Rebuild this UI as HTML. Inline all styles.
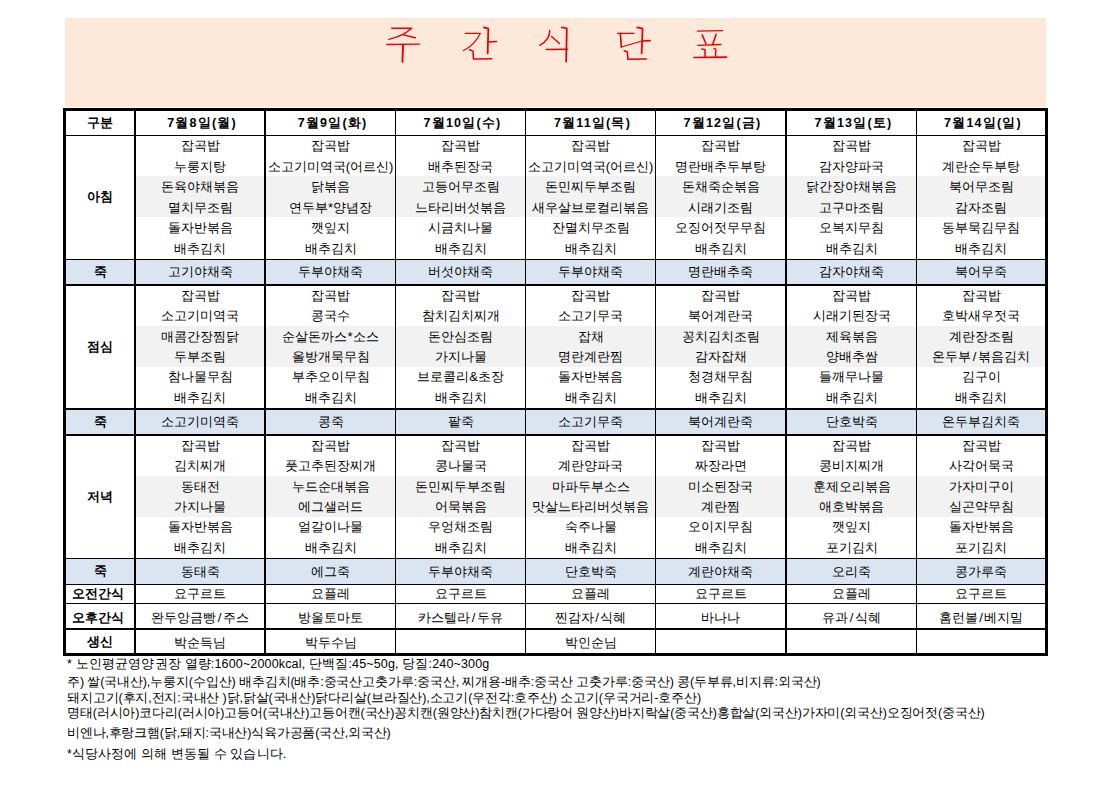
<!DOCTYPE html>
<html><head><meta charset="utf-8"><style>
html,body{margin:0;padding:0;background:#fff;width:1115px;height:788px;overflow:hidden}
body{position:relative;font-family:"Liberation Sans",sans-serif;color:#000}
.b{position:absolute}
.t,.tb{position:absolute;text-align:center;white-space:nowrap;font-size:13px}
.tb{font-weight:bold;font-size:12.5px}
.ttl{position:absolute;font-family:"Liberation Serif",serif;font-size:36px;line-height:44px;color:#f00}
.sl{margin:0 1.5px}
.n{position:absolute;white-space:nowrap;font-size:12.5px;line-height:18px}
</style></head><body>
<div class="b" style="left:65px;top:18px;width:981px;height:89px;background:#fde9d9"></div>
<svg class="b" style="left:378px;top:20px" width="50" height="50" viewBox="0 0 788 788"><g fill="none" stroke="#e80000" stroke-linecap="round" stroke-linejoin="round"><path d="M215,130 L530,130" stroke-width="20"/><path d="M520,138 Q400,250 170,305" stroke-width="20"/><path d="M400,235 L590,280" stroke-width="22"/><path d="M140,385 L655,380" stroke-width="22"/><path d="M395,390 L385,660" stroke-width="30"/></g></svg>
<svg class="b" style="left:455px;top:20px" width="50" height="50" viewBox="0 0 788 788"><g fill="none" stroke="#e80000" stroke-linecap="round" stroke-linejoin="round"><path d="M160,210 L400,210" stroke-width="20"/><path d="M395,215 Q320,380 130,485" stroke-width="18"/><path d="M455,118 L525,135 L515,525" stroke-width="28"/><path d="M525,345 L655,340" stroke-width="24"/><path d="M230,470 L285,490 L290,615 L580,612" stroke-width="24"/></g></svg>
<svg class="b" style="left:530px;top:20px" width="50" height="50" viewBox="0 0 788 788"><g fill="none" stroke="#e80000" stroke-linecap="round" stroke-linejoin="round"><path d="M310,165 Q320,300 155,400" stroke-width="22"/><path d="M340,260 L465,370" stroke-width="22"/><path d="M500,115 L580,130 L570,655" stroke-width="28"/><path d="M255,465 L590,462" stroke-width="22"/></g></svg>
<svg class="b" style="left:608px;top:20px" width="50" height="50" viewBox="0 0 788 788"><g fill="none" stroke="#e80000" stroke-linecap="round" stroke-linejoin="round"><path d="M150,210 L410,210" stroke-width="20"/><path d="M195,215 L210,425" stroke-width="26"/><path d="M210,425 L520,335" stroke-width="18"/><path d="M460,115 L545,135 L530,525" stroke-width="28"/><path d="M540,330 L665,325" stroke-width="24"/><path d="M255,485 L305,505 L315,620 L605,615" stroke-width="24"/></g></svg>
<svg class="b" style="left:686px;top:20px" width="50" height="50" viewBox="0 0 788 788"><g fill="none" stroke="#e80000" stroke-linecap="round" stroke-linejoin="round"><path d="M180,175 L575,168" stroke-width="22"/><path d="M255,235 L315,375" stroke-width="24"/><path d="M475,225 L420,385" stroke-width="24"/><path d="M185,400 L550,385" stroke-width="22"/><path d="M250,455 L300,470 L300,590" stroke-width="24"/><path d="M440,450 L470,460 L465,585" stroke-width="22"/><path d="M125,590 L640,585" stroke-width="24"/></g></svg>
<div class="b" style="left:136px;top:176px;width:128px;height:41px;background:#f2f2f2"></div>
<div class="b" style="left:266px;top:176px;width:129px;height:41px;background:#f2f2f2"></div>
<div class="b" style="left:396px;top:176px;width:129px;height:41px;background:#f2f2f2"></div>
<div class="b" style="left:526px;top:176px;width:129px;height:41px;background:#f2f2f2"></div>
<div class="b" style="left:656px;top:176px;width:129px;height:41px;background:#f2f2f2"></div>
<div class="b" style="left:787px;top:176px;width:129px;height:41px;background:#f2f2f2"></div>
<div class="b" style="left:917px;top:176px;width:128px;height:41px;background:#f2f2f2"></div>
<div class="b" style="left:66px;top:260px;width:979px;height:24px;background:#dbe5f1"></div>
<div class="b" style="left:136px;top:326px;width:128px;height:41px;background:#f2f2f2"></div>
<div class="b" style="left:266px;top:326px;width:129px;height:41px;background:#f2f2f2"></div>
<div class="b" style="left:396px;top:326px;width:129px;height:41px;background:#f2f2f2"></div>
<div class="b" style="left:526px;top:326px;width:129px;height:41px;background:#f2f2f2"></div>
<div class="b" style="left:656px;top:326px;width:129px;height:41px;background:#f2f2f2"></div>
<div class="b" style="left:787px;top:326px;width:129px;height:41px;background:#f2f2f2"></div>
<div class="b" style="left:917px;top:326px;width:128px;height:41px;background:#f2f2f2"></div>
<div class="b" style="left:66px;top:410px;width:979px;height:24px;background:#dbe5f1"></div>
<div class="b" style="left:136px;top:476px;width:128px;height:41px;background:#f2f2f2"></div>
<div class="b" style="left:266px;top:476px;width:129px;height:41px;background:#f2f2f2"></div>
<div class="b" style="left:396px;top:476px;width:129px;height:41px;background:#f2f2f2"></div>
<div class="b" style="left:526px;top:476px;width:129px;height:41px;background:#f2f2f2"></div>
<div class="b" style="left:656px;top:476px;width:129px;height:41px;background:#f2f2f2"></div>
<div class="b" style="left:787px;top:476px;width:129px;height:41px;background:#f2f2f2"></div>
<div class="b" style="left:917px;top:476px;width:128px;height:41px;background:#f2f2f2"></div>
<div class="b" style="left:66px;top:559px;width:979px;height:25px;background:#dbe5f1"></div>
<div class="b" style="left:63px;top:108px;width:3px;height:548px;background:#000"></div>
<div class="b" style="left:134px;top:108px;width:2px;height:548px;background:#000"></div>
<div class="b" style="left:264px;top:108px;width:2px;height:548px;background:#000"></div>
<div class="b" style="left:395px;top:108px;width:1px;height:548px;background:#000"></div>
<div class="b" style="left:525px;top:108px;width:1px;height:548px;background:#000"></div>
<div class="b" style="left:655px;top:108px;width:1px;height:548px;background:#000"></div>
<div class="b" style="left:785px;top:108px;width:2px;height:548px;background:#000"></div>
<div class="b" style="left:916px;top:108px;width:1px;height:548px;background:#000"></div>
<div class="b" style="left:1045px;top:108px;width:3px;height:548px;background:#000"></div>
<div class="b" style="left:63px;top:108px;width:985px;height:3px;background:#000"></div>
<div class="b" style="left:63px;top:135px;width:985px;height:1px;background:#000"></div>
<div class="b" style="left:63px;top:259px;width:985px;height:1px;background:#000"></div>
<div class="b" style="left:63px;top:284px;width:985px;height:2px;background:#000"></div>
<div class="b" style="left:63px;top:408px;width:985px;height:2px;background:#000"></div>
<div class="b" style="left:63px;top:434px;width:985px;height:2px;background:#000"></div>
<div class="b" style="left:63px;top:558px;width:985px;height:1px;background:#000"></div>
<div class="b" style="left:63px;top:584px;width:985px;height:1px;background:#000"></div>
<div class="b" style="left:63px;top:603px;width:985px;height:1px;background:#000"></div>
<div class="b" style="left:63px;top:628px;width:985px;height:2px;background:#000"></div>
<div class="b" style="left:63px;top:653px;width:985px;height:3px;background:#000"></div>
<div class="tb" style="left:66px;top:111.00px;width:68px;height:24.00px;line-height:24.00px;">구분</div>
<div class="tb" style="left:136px;top:111.00px;width:128px;height:24.00px;line-height:24.00px;letter-spacing:1.2px;text-indent:4px">7월8일(월)</div>
<div class="tb" style="left:266px;top:111.00px;width:129px;height:24.00px;line-height:24.00px;letter-spacing:1.2px;text-indent:4px">7월9일(화)</div>
<div class="tb" style="left:396px;top:111.00px;width:129px;height:24.00px;line-height:24.00px;letter-spacing:1.2px;text-indent:4px">7월10일(수)</div>
<div class="tb" style="left:526px;top:111.00px;width:129px;height:24.00px;line-height:24.00px;letter-spacing:1.2px;text-indent:4px">7월11일(목)</div>
<div class="tb" style="left:656px;top:111.00px;width:129px;height:24.00px;line-height:24.00px;letter-spacing:1.2px;text-indent:4px">7월12일(금)</div>
<div class="tb" style="left:787px;top:111.00px;width:129px;height:24.00px;line-height:24.00px;letter-spacing:1.2px;text-indent:4px">7월13일(토)</div>
<div class="tb" style="left:917px;top:111.00px;width:128px;height:24.00px;line-height:24.00px;letter-spacing:1.2px;text-indent:4px">7월14일(일)</div>
<div class="tb" style="left:66px;top:136.00px;width:68px;height:123.00px;line-height:123.00px;">아침</div>
<div class="t" style="left:136px;top:136.00px;width:128px;height:20.50px;line-height:20.50px;">잡곡밥</div>
<div class="t" style="left:136px;top:156.50px;width:128px;height:20.50px;line-height:20.50px;">누룽지탕</div>
<div class="t" style="left:136px;top:177.00px;width:128px;height:20.50px;line-height:20.50px;">돈육야채볶음</div>
<div class="t" style="left:136px;top:197.50px;width:128px;height:20.50px;line-height:20.50px;">멸치무조림</div>
<div class="t" style="left:136px;top:218.00px;width:128px;height:20.50px;line-height:20.50px;">돌자반볶음</div>
<div class="t" style="left:136px;top:238.50px;width:128px;height:20.50px;line-height:20.50px;">배추김치</div>
<div class="t" style="left:136px;top:260.00px;width:128px;height:24.00px;line-height:24.00px;">고기야채죽</div>
<div class="t" style="left:266px;top:136.00px;width:129px;height:20.50px;line-height:20.50px;">잡곡밥</div>
<div class="t" style="left:266px;top:156.50px;width:129px;height:20.50px;line-height:20.50px;">소고기미역국(어르신)</div>
<div class="t" style="left:266px;top:177.00px;width:129px;height:20.50px;line-height:20.50px;">닭볶음</div>
<div class="t" style="left:266px;top:197.50px;width:129px;height:20.50px;line-height:20.50px;">연두부*양념장</div>
<div class="t" style="left:266px;top:218.00px;width:129px;height:20.50px;line-height:20.50px;">깻잎지</div>
<div class="t" style="left:266px;top:238.50px;width:129px;height:20.50px;line-height:20.50px;">배추김치</div>
<div class="t" style="left:266px;top:260.00px;width:129px;height:24.00px;line-height:24.00px;">두부야채죽</div>
<div class="t" style="left:396px;top:136.00px;width:129px;height:20.50px;line-height:20.50px;">잡곡밥</div>
<div class="t" style="left:396px;top:156.50px;width:129px;height:20.50px;line-height:20.50px;">배추된장국</div>
<div class="t" style="left:396px;top:177.00px;width:129px;height:20.50px;line-height:20.50px;">고등어무조림</div>
<div class="t" style="left:396px;top:197.50px;width:129px;height:20.50px;line-height:20.50px;">느타리버섯볶음</div>
<div class="t" style="left:396px;top:218.00px;width:129px;height:20.50px;line-height:20.50px;">시금치나물</div>
<div class="t" style="left:396px;top:238.50px;width:129px;height:20.50px;line-height:20.50px;">배추김치</div>
<div class="t" style="left:396px;top:260.00px;width:129px;height:24.00px;line-height:24.00px;">버섯야채죽</div>
<div class="t" style="left:526px;top:136.00px;width:129px;height:20.50px;line-height:20.50px;">잡곡밥</div>
<div class="t" style="left:526px;top:156.50px;width:129px;height:20.50px;line-height:20.50px;">소고기미역국(어르신)</div>
<div class="t" style="left:526px;top:177.00px;width:129px;height:20.50px;line-height:20.50px;">돈민찌두부조림</div>
<div class="t" style="left:526px;top:197.50px;width:129px;height:20.50px;line-height:20.50px;">새우살브로컬리볶음</div>
<div class="t" style="left:526px;top:218.00px;width:129px;height:20.50px;line-height:20.50px;">잔멸치무조림</div>
<div class="t" style="left:526px;top:238.50px;width:129px;height:20.50px;line-height:20.50px;">배추김치</div>
<div class="t" style="left:526px;top:260.00px;width:129px;height:24.00px;line-height:24.00px;">두부야채죽</div>
<div class="t" style="left:656px;top:136.00px;width:129px;height:20.50px;line-height:20.50px;">잡곡밥</div>
<div class="t" style="left:656px;top:156.50px;width:129px;height:20.50px;line-height:20.50px;">명란배추두부탕</div>
<div class="t" style="left:656px;top:177.00px;width:129px;height:20.50px;line-height:20.50px;">돈채죽순볶음</div>
<div class="t" style="left:656px;top:197.50px;width:129px;height:20.50px;line-height:20.50px;">시래기조림</div>
<div class="t" style="left:656px;top:218.00px;width:129px;height:20.50px;line-height:20.50px;">오징어젓무무침</div>
<div class="t" style="left:656px;top:238.50px;width:129px;height:20.50px;line-height:20.50px;">배추김치</div>
<div class="t" style="left:656px;top:260.00px;width:129px;height:24.00px;line-height:24.00px;">명란배추죽</div>
<div class="t" style="left:787px;top:136.00px;width:129px;height:20.50px;line-height:20.50px;">잡곡밥</div>
<div class="t" style="left:787px;top:156.50px;width:129px;height:20.50px;line-height:20.50px;">감자양파국</div>
<div class="t" style="left:787px;top:177.00px;width:129px;height:20.50px;line-height:20.50px;">닭간장야채볶음</div>
<div class="t" style="left:787px;top:197.50px;width:129px;height:20.50px;line-height:20.50px;">고구마조림</div>
<div class="t" style="left:787px;top:218.00px;width:129px;height:20.50px;line-height:20.50px;">오복지무침</div>
<div class="t" style="left:787px;top:238.50px;width:129px;height:20.50px;line-height:20.50px;">배추김치</div>
<div class="t" style="left:787px;top:260.00px;width:129px;height:24.00px;line-height:24.00px;">감자야채죽</div>
<div class="t" style="left:917px;top:136.00px;width:128px;height:20.50px;line-height:20.50px;">잡곡밥</div>
<div class="t" style="left:917px;top:156.50px;width:128px;height:20.50px;line-height:20.50px;">계란순두부탕</div>
<div class="t" style="left:917px;top:177.00px;width:128px;height:20.50px;line-height:20.50px;">북어무조림</div>
<div class="t" style="left:917px;top:197.50px;width:128px;height:20.50px;line-height:20.50px;">감자조림</div>
<div class="t" style="left:917px;top:218.00px;width:128px;height:20.50px;line-height:20.50px;">동부묵김무침</div>
<div class="t" style="left:917px;top:238.50px;width:128px;height:20.50px;line-height:20.50px;">배추김치</div>
<div class="t" style="left:917px;top:260.00px;width:128px;height:24.00px;line-height:24.00px;">북어무죽</div>
<div class="tb" style="left:66px;top:260.00px;width:68px;height:24.00px;line-height:24.00px;">죽</div>
<div class="tb" style="left:66px;top:286.00px;width:68px;height:122.00px;line-height:122.00px;">점심</div>
<div class="t" style="left:136px;top:286.00px;width:128px;height:20.33px;line-height:20.33px;">잡곡밥</div>
<div class="t" style="left:136px;top:306.33px;width:128px;height:20.33px;line-height:20.33px;">소고기미역국</div>
<div class="t" style="left:136px;top:326.67px;width:128px;height:20.33px;line-height:20.33px;">매콤간장찜닭</div>
<div class="t" style="left:136px;top:347.00px;width:128px;height:20.33px;line-height:20.33px;">두부조림</div>
<div class="t" style="left:136px;top:367.33px;width:128px;height:20.33px;line-height:20.33px;">참나물무침</div>
<div class="t" style="left:136px;top:387.67px;width:128px;height:20.33px;line-height:20.33px;">배추김치</div>
<div class="t" style="left:136px;top:410.00px;width:128px;height:24.00px;line-height:24.00px;">소고기미역죽</div>
<div class="t" style="left:266px;top:286.00px;width:129px;height:20.33px;line-height:20.33px;">잡곡밥</div>
<div class="t" style="left:266px;top:306.33px;width:129px;height:20.33px;line-height:20.33px;">콩국수</div>
<div class="t" style="left:266px;top:326.67px;width:129px;height:20.33px;line-height:20.33px;">순살돈까스*소스</div>
<div class="t" style="left:266px;top:347.00px;width:129px;height:20.33px;line-height:20.33px;">올방개묵무침</div>
<div class="t" style="left:266px;top:367.33px;width:129px;height:20.33px;line-height:20.33px;">부추오이무침</div>
<div class="t" style="left:266px;top:387.67px;width:129px;height:20.33px;line-height:20.33px;">배추김치</div>
<div class="t" style="left:266px;top:410.00px;width:129px;height:24.00px;line-height:24.00px;">콩죽</div>
<div class="t" style="left:396px;top:286.00px;width:129px;height:20.33px;line-height:20.33px;">잡곡밥</div>
<div class="t" style="left:396px;top:306.33px;width:129px;height:20.33px;line-height:20.33px;">참치김치찌개</div>
<div class="t" style="left:396px;top:326.67px;width:129px;height:20.33px;line-height:20.33px;">돈안심조림</div>
<div class="t" style="left:396px;top:347.00px;width:129px;height:20.33px;line-height:20.33px;">가지나물</div>
<div class="t" style="left:396px;top:367.33px;width:129px;height:20.33px;line-height:20.33px;">브로콜리&amp;초장</div>
<div class="t" style="left:396px;top:387.67px;width:129px;height:20.33px;line-height:20.33px;">배추김치</div>
<div class="t" style="left:396px;top:410.00px;width:129px;height:24.00px;line-height:24.00px;">팥죽</div>
<div class="t" style="left:526px;top:286.00px;width:129px;height:20.33px;line-height:20.33px;">잡곡밥</div>
<div class="t" style="left:526px;top:306.33px;width:129px;height:20.33px;line-height:20.33px;">소고기무국</div>
<div class="t" style="left:526px;top:326.67px;width:129px;height:20.33px;line-height:20.33px;">잡채</div>
<div class="t" style="left:526px;top:347.00px;width:129px;height:20.33px;line-height:20.33px;">명란계란찜</div>
<div class="t" style="left:526px;top:367.33px;width:129px;height:20.33px;line-height:20.33px;">돌자반볶음</div>
<div class="t" style="left:526px;top:387.67px;width:129px;height:20.33px;line-height:20.33px;">배추김치</div>
<div class="t" style="left:526px;top:410.00px;width:129px;height:24.00px;line-height:24.00px;">소고기무죽</div>
<div class="t" style="left:656px;top:286.00px;width:129px;height:20.33px;line-height:20.33px;">잡곡밥</div>
<div class="t" style="left:656px;top:306.33px;width:129px;height:20.33px;line-height:20.33px;">북어계란국</div>
<div class="t" style="left:656px;top:326.67px;width:129px;height:20.33px;line-height:20.33px;">꽁치김치조림</div>
<div class="t" style="left:656px;top:347.00px;width:129px;height:20.33px;line-height:20.33px;">감자잡채</div>
<div class="t" style="left:656px;top:367.33px;width:129px;height:20.33px;line-height:20.33px;">청경채무침</div>
<div class="t" style="left:656px;top:387.67px;width:129px;height:20.33px;line-height:20.33px;">배추김치</div>
<div class="t" style="left:656px;top:410.00px;width:129px;height:24.00px;line-height:24.00px;">북어계란죽</div>
<div class="t" style="left:787px;top:286.00px;width:129px;height:20.33px;line-height:20.33px;">잡곡밥</div>
<div class="t" style="left:787px;top:306.33px;width:129px;height:20.33px;line-height:20.33px;">시래기된장국</div>
<div class="t" style="left:787px;top:326.67px;width:129px;height:20.33px;line-height:20.33px;">제육볶음</div>
<div class="t" style="left:787px;top:347.00px;width:129px;height:20.33px;line-height:20.33px;">양배추쌈</div>
<div class="t" style="left:787px;top:367.33px;width:129px;height:20.33px;line-height:20.33px;">들깨무나물</div>
<div class="t" style="left:787px;top:387.67px;width:129px;height:20.33px;line-height:20.33px;">배추김치</div>
<div class="t" style="left:787px;top:410.00px;width:129px;height:24.00px;line-height:24.00px;">단호박죽</div>
<div class="t" style="left:917px;top:286.00px;width:128px;height:20.33px;line-height:20.33px;">잡곡밥</div>
<div class="t" style="left:917px;top:306.33px;width:128px;height:20.33px;line-height:20.33px;">호박새우젓국</div>
<div class="t" style="left:917px;top:326.67px;width:128px;height:20.33px;line-height:20.33px;">계란장조림</div>
<div class="t" style="left:917px;top:347.00px;width:128px;height:20.33px;line-height:20.33px;">온두부<span class="sl">/</span>볶음김치</div>
<div class="t" style="left:917px;top:367.33px;width:128px;height:20.33px;line-height:20.33px;">김구이</div>
<div class="t" style="left:917px;top:387.67px;width:128px;height:20.33px;line-height:20.33px;">배추김치</div>
<div class="t" style="left:917px;top:410.00px;width:128px;height:24.00px;line-height:24.00px;">온두부김치죽</div>
<div class="tb" style="left:66px;top:410.00px;width:68px;height:24.00px;line-height:24.00px;">죽</div>
<div class="tb" style="left:66px;top:436.00px;width:68px;height:122.00px;line-height:122.00px;">저녁</div>
<div class="t" style="left:136px;top:436.00px;width:128px;height:20.33px;line-height:20.33px;">잡곡밥</div>
<div class="t" style="left:136px;top:456.33px;width:128px;height:20.33px;line-height:20.33px;">김치찌개</div>
<div class="t" style="left:136px;top:476.67px;width:128px;height:20.33px;line-height:20.33px;">동태전</div>
<div class="t" style="left:136px;top:497.00px;width:128px;height:20.33px;line-height:20.33px;">가지나물</div>
<div class="t" style="left:136px;top:517.33px;width:128px;height:20.33px;line-height:20.33px;">돌자반볶음</div>
<div class="t" style="left:136px;top:537.67px;width:128px;height:20.33px;line-height:20.33px;">배추김치</div>
<div class="t" style="left:136px;top:559.00px;width:128px;height:25.00px;line-height:25.00px;">동태죽</div>
<div class="t" style="left:266px;top:436.00px;width:129px;height:20.33px;line-height:20.33px;">잡곡밥</div>
<div class="t" style="left:266px;top:456.33px;width:129px;height:20.33px;line-height:20.33px;">풋고추된장찌개</div>
<div class="t" style="left:266px;top:476.67px;width:129px;height:20.33px;line-height:20.33px;">누드순대볶음</div>
<div class="t" style="left:266px;top:497.00px;width:129px;height:20.33px;line-height:20.33px;">에그샐러드</div>
<div class="t" style="left:266px;top:517.33px;width:129px;height:20.33px;line-height:20.33px;">얼갈이나물</div>
<div class="t" style="left:266px;top:537.67px;width:129px;height:20.33px;line-height:20.33px;">배추김치</div>
<div class="t" style="left:266px;top:559.00px;width:129px;height:25.00px;line-height:25.00px;">에그죽</div>
<div class="t" style="left:396px;top:436.00px;width:129px;height:20.33px;line-height:20.33px;">잡곡밥</div>
<div class="t" style="left:396px;top:456.33px;width:129px;height:20.33px;line-height:20.33px;">콩나물국</div>
<div class="t" style="left:396px;top:476.67px;width:129px;height:20.33px;line-height:20.33px;">돈민찌두부조림</div>
<div class="t" style="left:396px;top:497.00px;width:129px;height:20.33px;line-height:20.33px;">어묵볶음</div>
<div class="t" style="left:396px;top:517.33px;width:129px;height:20.33px;line-height:20.33px;">우엉채조림</div>
<div class="t" style="left:396px;top:537.67px;width:129px;height:20.33px;line-height:20.33px;">배추김치</div>
<div class="t" style="left:396px;top:559.00px;width:129px;height:25.00px;line-height:25.00px;">두부야채죽</div>
<div class="t" style="left:526px;top:436.00px;width:129px;height:20.33px;line-height:20.33px;">잡곡밥</div>
<div class="t" style="left:526px;top:456.33px;width:129px;height:20.33px;line-height:20.33px;">계란양파국</div>
<div class="t" style="left:526px;top:476.67px;width:129px;height:20.33px;line-height:20.33px;">마파두부소스</div>
<div class="t" style="left:526px;top:497.00px;width:129px;height:20.33px;line-height:20.33px;">맛살느타리버섯볶음</div>
<div class="t" style="left:526px;top:517.33px;width:129px;height:20.33px;line-height:20.33px;">숙주나물</div>
<div class="t" style="left:526px;top:537.67px;width:129px;height:20.33px;line-height:20.33px;">배추김치</div>
<div class="t" style="left:526px;top:559.00px;width:129px;height:25.00px;line-height:25.00px;">단호박죽</div>
<div class="t" style="left:656px;top:436.00px;width:129px;height:20.33px;line-height:20.33px;">잡곡밥</div>
<div class="t" style="left:656px;top:456.33px;width:129px;height:20.33px;line-height:20.33px;">짜장라면</div>
<div class="t" style="left:656px;top:476.67px;width:129px;height:20.33px;line-height:20.33px;">미소된장국</div>
<div class="t" style="left:656px;top:497.00px;width:129px;height:20.33px;line-height:20.33px;">계란찜</div>
<div class="t" style="left:656px;top:517.33px;width:129px;height:20.33px;line-height:20.33px;">오이지무침</div>
<div class="t" style="left:656px;top:537.67px;width:129px;height:20.33px;line-height:20.33px;">배추김치</div>
<div class="t" style="left:656px;top:559.00px;width:129px;height:25.00px;line-height:25.00px;">계란야채죽</div>
<div class="t" style="left:787px;top:436.00px;width:129px;height:20.33px;line-height:20.33px;">잡곡밥</div>
<div class="t" style="left:787px;top:456.33px;width:129px;height:20.33px;line-height:20.33px;">콩비지찌개</div>
<div class="t" style="left:787px;top:476.67px;width:129px;height:20.33px;line-height:20.33px;">훈제오리볶음</div>
<div class="t" style="left:787px;top:497.00px;width:129px;height:20.33px;line-height:20.33px;">애호박볶음</div>
<div class="t" style="left:787px;top:517.33px;width:129px;height:20.33px;line-height:20.33px;">깻잎지</div>
<div class="t" style="left:787px;top:537.67px;width:129px;height:20.33px;line-height:20.33px;">포기김치</div>
<div class="t" style="left:787px;top:559.00px;width:129px;height:25.00px;line-height:25.00px;">오리죽</div>
<div class="t" style="left:917px;top:436.00px;width:128px;height:20.33px;line-height:20.33px;">잡곡밥</div>
<div class="t" style="left:917px;top:456.33px;width:128px;height:20.33px;line-height:20.33px;">사각어묵국</div>
<div class="t" style="left:917px;top:476.67px;width:128px;height:20.33px;line-height:20.33px;">가자미구이</div>
<div class="t" style="left:917px;top:497.00px;width:128px;height:20.33px;line-height:20.33px;">실곤약무침</div>
<div class="t" style="left:917px;top:517.33px;width:128px;height:20.33px;line-height:20.33px;">돌자반볶음</div>
<div class="t" style="left:917px;top:537.67px;width:128px;height:20.33px;line-height:20.33px;">포기김치</div>
<div class="t" style="left:917px;top:559.00px;width:128px;height:25.00px;line-height:25.00px;">콩가루죽</div>
<div class="tb" style="left:66px;top:559.00px;width:68px;height:25.00px;line-height:25.00px;">죽</div>
<div class="tb" style="left:64px;top:585.00px;width:68px;height:18.00px;line-height:18.00px;">오전간식</div>
<div class="t" style="left:136px;top:585.00px;width:128px;height:18.00px;line-height:18.00px;">요구르트</div>
<div class="t" style="left:266px;top:585.00px;width:129px;height:18.00px;line-height:18.00px;">요플레</div>
<div class="t" style="left:396px;top:585.00px;width:129px;height:18.00px;line-height:18.00px;">요구르트</div>
<div class="t" style="left:526px;top:585.00px;width:129px;height:18.00px;line-height:18.00px;">요플레</div>
<div class="t" style="left:656px;top:585.00px;width:129px;height:18.00px;line-height:18.00px;">요구르트</div>
<div class="t" style="left:787px;top:585.00px;width:129px;height:18.00px;line-height:18.00px;">요플레</div>
<div class="t" style="left:917px;top:585.00px;width:128px;height:18.00px;line-height:18.00px;">요구르트</div>
<div class="tb" style="left:64px;top:605.50px;width:68px;height:24.00px;line-height:24.00px;">오후간식</div>
<div class="t" style="left:136px;top:605.50px;width:128px;height:24.00px;line-height:24.00px;">완두앙금빵<span class="sl">/</span>주스</div>
<div class="t" style="left:266px;top:605.50px;width:129px;height:24.00px;line-height:24.00px;">방울토마토</div>
<div class="t" style="left:396px;top:605.50px;width:129px;height:24.00px;line-height:24.00px;">카스텔라<span class="sl">/</span>두유</div>
<div class="t" style="left:526px;top:605.50px;width:129px;height:24.00px;line-height:24.00px;">찐감자<span class="sl">/</span>식혜</div>
<div class="t" style="left:656px;top:605.50px;width:129px;height:24.00px;line-height:24.00px;">바나나</div>
<div class="t" style="left:787px;top:605.50px;width:129px;height:24.00px;line-height:24.00px;">유과<span class="sl">/</span>식혜</div>
<div class="t" style="left:917px;top:605.50px;width:128px;height:24.00px;line-height:24.00px;">홈런볼<span class="sl">/</span>베지밀</div>
<div class="tb" style="left:66px;top:631.00px;width:68px;height:23.00px;line-height:23.00px;">생신</div>
<div class="t" style="left:136px;top:631.00px;width:128px;height:23.00px;line-height:23.00px;">박순득님</div>
<div class="t" style="left:266px;top:631.00px;width:129px;height:23.00px;line-height:23.00px;">박두수님</div>
<div class="t" style="left:526px;top:631.00px;width:129px;height:23.00px;line-height:23.00px;">박인순님</div>
<div class="n" style="left:67px;top:655.0px;letter-spacing:0.157px">* 노인평균영양권장 열량:1600~2000kcal, 단백질:45~50g, 당질:240~300g</div>
<div class="n" style="left:67px;top:672.5px;letter-spacing:-0.122px">주) 쌀(국내산),누룽지(수입산) 배추김치(배추:중국산고춧가루:중국산, 찌개용-배추:중국산 고춧가루:중국산) 콩(두부류,비지류:외국산)</div>
<div class="n" style="left:67px;top:689.0px;letter-spacing:-0.131px">돼지고기(후지,전지:국내산 )닭,닭살(국내산)닭다리살(브라질산),소고기(우전각:호주산) 소고기(우국거리-호주산)</div>
<div class="n" style="left:67px;top:704.0px;letter-spacing:-0.165px">명태(러시아)코다리(러시아)고등어(국내산)고등어캔(국산)꽁치캔(원양산)참치캔(가다랑어 원양산)바지락살(중국산)홍합살(외국산)가자미(외국산)오징어젓(중국산)</div>
<div class="n" style="left:67px;top:724.0px;letter-spacing:-0.200px">비엔나,후랑크햄(닭,돼지:국내산)식육가공품(국산,외국산)</div>
<div class="n" style="left:67px;top:745.0px;letter-spacing:0.100px">*식당사정에 의해 변동될 수 있습니다.</div>
</body></html>
